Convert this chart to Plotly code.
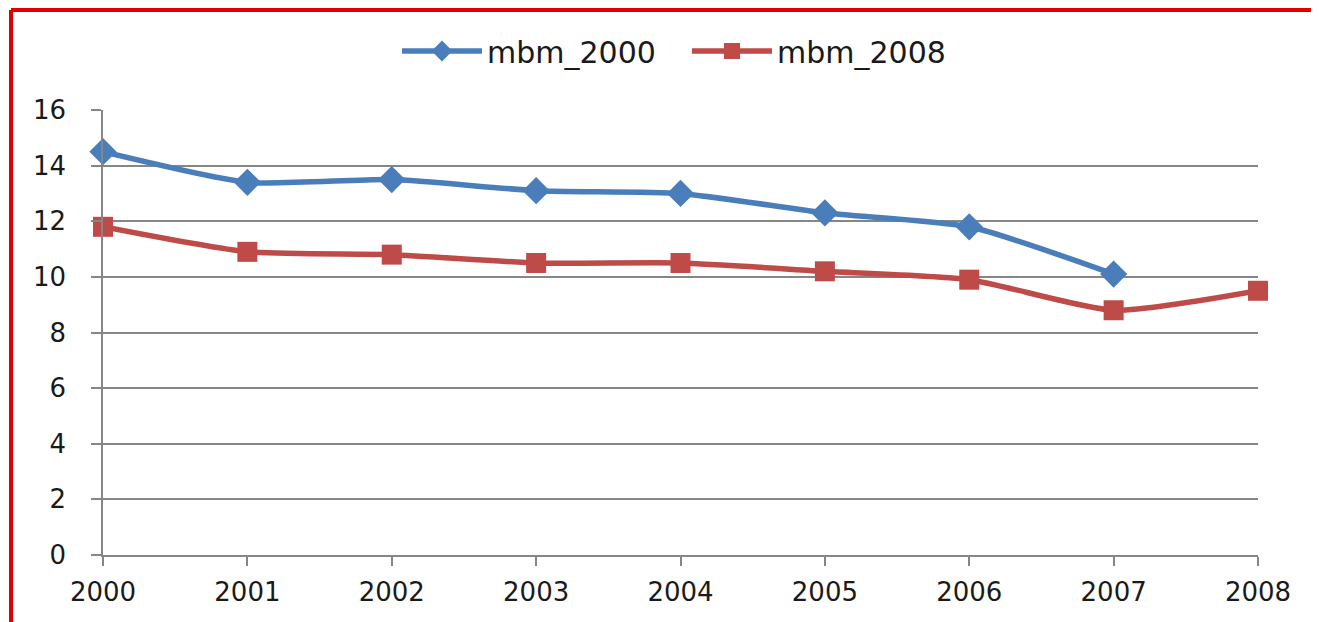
import plotly.graph_objects as go

years = [2000, 2001, 2002, 2003, 2004, 2005, 2006, 2007, 2008]
mbm_2000 = [14.5, 13.4, 13.5, 13.1, 13.0, 12.3, 11.8, 10.1, None]
mbm_2008 = [11.8, 10.9, 10.8, 10.5, 10.5, 10.2, 9.9, 8.8, 9.5]
y_ticks = [0, 2, 4, 6, 8, 10, 12, 14, 16]

BLUE = "#4A7EBB"
RED = "#BE4B48"
FONT = "DejaVu Sans"

fig = go.Figure()
fig.add_trace(go.Scatter(
    x=years, y=mbm_2000, name="mbm_2000", mode="lines+markers",
    line=dict(color=BLUE, width=5.5, shape="spline", smoothing=0.6),
    marker=dict(symbol="diamond", size=21, color=BLUE),
    cliponaxis=False,
))
fig.add_trace(go.Scatter(
    x=years, y=mbm_2008, name="mbm_2008", mode="lines+markers",
    line=dict(color=RED, width=5.5, shape="spline", smoothing=0.6),
    marker=dict(symbol="square", size=20, color=RED),
    cliponaxis=False,
))

W, H = 1319, 622
# target plot area in reference pixel coords
X0, X1, Y0, Y1 = 102, 1257, 110, 555
OX, OY = 7, 8  # page offset of the rendered figure
pw, ph = X1 - X0, Y1 - Y0
L, T = X0 - OX, Y0 - OY
R, B = W - L - pw, H - T - ph

def px(x):
    return (x - X0) / pw

def py(y):
    return (Y1 - y) / ph

fig.update_layout(
    width=W, height=H,
    margin=dict(l=L, r=R, t=T, b=B),
    paper_bgcolor="white", plot_bgcolor="white",
    font=dict(family=FONT, size=22, color="#333333"),
    showlegend=True,
    legend=dict(orientation="h", x=px(686), y=py(51), xanchor="center", yanchor="middle",
                font=dict(size=30, color="#1a1a1a"), itemwidth=80, entrywidth=195,
                bgcolor="rgba(0,0,0,0)"),
    xaxis=dict(range=[2000, 2008], tickvals=years, ticktext=[str(y) for y in years],
               showgrid=False, zeroline=False, showline=True, linecolor="#868686", linewidth=1.5,
               ticks="outside", ticklen=9, tickcolor="#868686", tickwidth=1.5,
               tickfont=dict(size=26, color="#1a1a1a"), ticklabelstandoff=4),
    yaxis=dict(range=[0, 16], tickvals=y_ticks, showgrid=True, gridcolor="#868686", gridwidth=1.5,
               zeroline=False, showline=True, linecolor="#868686", linewidth=1.5,
               ticks="outside", ticklen=10, tickcolor="#868686", tickwidth=1.5,
               tickfont=dict(size=26, color="#1a1a1a"), ticklabelstandoff=20),
    shapes=[
        dict(type="line", xref="paper", yref="paper",
             x0=px(10), x1=px(1340), y0=py(10), y1=py(10),
             line=dict(color="#E00000", width=4), layer="below"),
        dict(type="line", xref="paper", yref="paper",
             x0=px(10), x1=px(10), y0=py(10), y1=py(650),
             line=dict(color="#E00000", width=4), layer="below"),
    ],
)

fig.write_html("out.html")
